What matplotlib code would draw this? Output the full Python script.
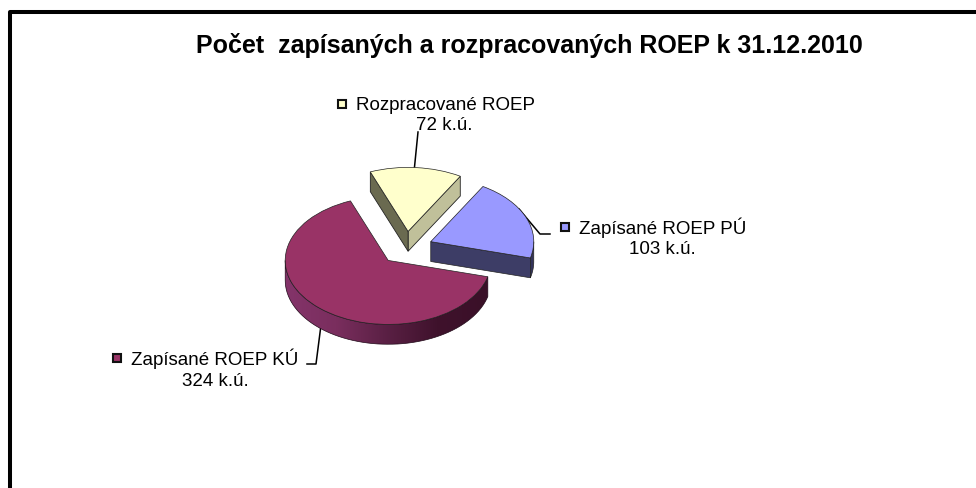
from matplotlib import pyplot as plt
from matplotlib.colors import LinearSegmentedColormap
from matplotlib.patches import Polygon, Rectangle
import numpy as np

plt.rcParams['font.family'] = ['Liberation Sans', 'DejaVu Sans']

values = [324, 103, 72]
names = ['Zapísané ROEP KÚ', 'Zapísané ROEP PÚ', 'Rozpracované ROEP']
colors = ['#993366', '#9999ff', '#ffffcc']
title = 'Počet  zapísaných a rozpracovaných ROEP k 31.12.2010'

W, H = 976, 488
depth = 0.31  # vyska "3D" boku v jednotkach osy y

fig = plt.figure(figsize=(W / 100, H / 100), dpi=100)

# pomocne osy v pixelech pro ramecek a popisky
bg = fig.add_axes([0, 0, 1, 1])
bg.set_xlim(0, W)
bg.set_ylim(H, 0)
bg.axis('off')

# kolac: 1 jednotka = 103 px na x, 64 px na y, stred na (406, 248)
ax = fig.add_axes([(406 - 206) / W, 1 - (248 + 128) / H, 412 / W, 256 / H])
wedges, _ = ax.pie(values, colors=colors, startangle=111.5, explode=[0.26] * 3,
                   wedgeprops={'edgecolor': '#222222', 'linewidth': 0.5, 'zorder': 5})
ax.set_aspect('auto')
ax.set_xlim(-2, 2)
ax.set_ylim(-2, 2)


def rim(w, a1, a2):
    t = np.radians(np.linspace(a1, a2, 60))
    return np.c_[w.center[0] + w.r * np.cos(t), w.center[1] + w.r * np.sin(t)]


def side(pts):
    return np.vstack([pts, (pts - [0, depth])[::-1]])


def face(w, a):
    p = rim(w, a, a)[:1]
    return np.vstack([[w.center], p, p - [0, depth], np.array([w.center]) - [0, depth]])


big, blue, yellow = wedges

# bok velke vysece s prechodem
big_side = side(rim(big, 180, big.theta2))
clip = Polygon(big_side, transform=ax.transData, facecolor='none', edgecolor='#200818', linewidth=0.5, zorder=3)
ax.add_patch(clip)
cmap = LinearSegmentedColormap.from_list('bok', ['#84346a', '#7a2e5e', '#5a2044', '#3f122c', '#3a1028'])
img = ax.imshow(np.linspace(0, 1, 256)[None, :], cmap=cmap, aspect='auto', zorder=2,
                extent=[big_side[:, 0].min(), big_side[:, 0].max(), big_side[:, 1].min(), big_side[:, 1].max()])
img.set_clip_path(clip)
ax.set_xlim(-2, 2)
ax.set_ylim(-2, 2)

# modra vysec
ax.add_patch(Polygon(face(blue, blue.theta1), facecolor='#3d3d66', edgecolor='#222222', linewidth=0.5, zorder=3))
ax.add_patch(Polygon(side(rim(blue, blue.theta1, 360)), facecolor='#33335a', edgecolor='#222222', linewidth=0.5, zorder=3))

# zluta vysec
ax.add_patch(Polygon(face(yellow, yellow.theta1), facecolor='#c0c09a', edgecolor='#222222', linewidth=0.6, zorder=3))
ax.add_patch(Polygon(face(yellow, yellow.theta2), facecolor='#6a6a50', edgecolor='#222222', linewidth=0.6, zorder=3))

# ramecek
bg.plot([10, 10, W], [H, 12, 12], color='black', linewidth=2.9, solid_joinstyle='round')

bg.text(529.5, 46, title, fontsize=18, fontweight='bold', ha='center', va='center', color='black')

# popisky s vodici carou a ctvereckem legendy
label_pos = [(215, 359, 381, 113), (662, 228, 250, 561), (444, 105, 125, 338)]
leaders = [([321, 316, 307], [325, 364, 364]),
           ([519, 540, 550], [209, 234, 234]),
           ([418, 414], [132, 172])]
for name, val, col, pos, lead in zip(names, values, colors, label_pos, leaders):
    cx, y1, y2, kx = pos
    bg.add_patch(Rectangle((kx, y1 - 5), 8, 8, facecolor=col, edgecolor='#111111', linewidth=1.5))
    bg.text(kx + 18, y1, name, fontsize=13.5, ha='left', va='center', color='black')
    bg.text(cx, y2, f'{val} k.ú.', fontsize=13.5, ha='center', va='center', color='black')
    bg.plot(lead[0], lead[1], color='black', linewidth=1.1)

fig.savefig('out.png', dpi=100)
